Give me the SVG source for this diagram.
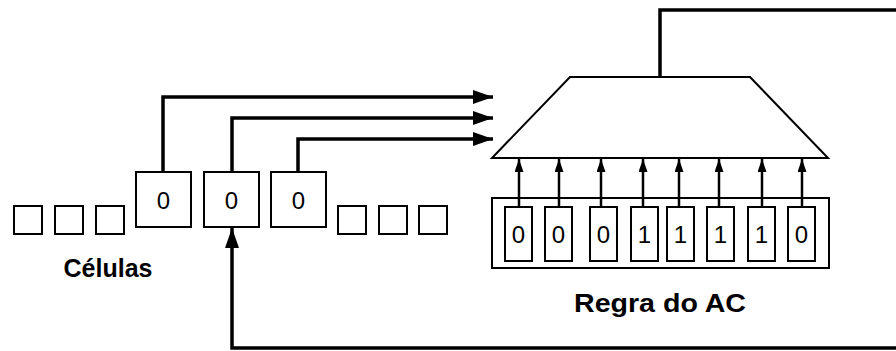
<svg xmlns="http://www.w3.org/2000/svg" width="896" height="351" viewBox="0 0 896 351">
<defs>
<style>
.box{fill:#fff;stroke:#000;stroke-width:2}
.wire{fill:none;stroke:#000;stroke-width:3.5}
.thin{fill:none;stroke:#000;stroke-width:2.5}
.dig{font-family:"Liberation Sans",Arial,sans-serif;font-size:24px;fill:#000;text-anchor:middle}
.lbl{font-family:"Liberation Sans",Arial,sans-serif;font-weight:bold;fill:#000;text-anchor:middle}
</style>
<marker id="ah" markerUnits="userSpaceOnUse" markerWidth="20" markerHeight="14" refX="20" refY="7" orient="auto">
<path d="M0,0 L20,7 L0,14 Z" fill="#000"/>
</marker>
<marker id="ahs" markerUnits="userSpaceOnUse" markerWidth="13" markerHeight="9" refX="13" refY="4.5" orient="auto">
<path d="M0,0 L13,4.5 L0,9 Z" fill="#000"/>
</marker>
</defs>
<rect width="896" height="351" fill="#fff"/>

<g id="cells-left">
<rect class="box" x="14" y="206" width="28" height="28"/>
<rect class="box" x="55" y="206" width="28" height="28"/>
<rect class="box" x="96" y="206" width="28" height="28"/>
</g>
<g id="cell-a"><rect class="box" x="136" y="172" width="55" height="55"/><text class="dig" x="163.5" y="208.5">0</text></g>
<g id="cell-b"><rect class="box" x="204" y="172" width="55" height="55"/><text class="dig" x="231.5" y="208.5">0</text></g>
<g id="cell-c"><rect class="box" x="271" y="172" width="55" height="55"/><text class="dig" x="298.5" y="208.5">0</text></g>
<g id="cells-right">
<rect class="box" x="338" y="206" width="28" height="28"/>
<rect class="box" x="379" y="206" width="28" height="28"/>
<rect class="box" x="419" y="206" width="28" height="28"/>
</g>
<g id="label-celulas"><text class="lbl" x="108" y="277" font-size="25">Células</text></g>

<g id="trapezoid"><polygon class="box" points="570,77 750,77 828,158 492,158"/></g>

<g id="rule">
<rect class="box" x="492" y="198" width="337" height="70"/>
<rect class="box" x="505" y="207" width="27" height="54"/><text class="dig" x="518.5" y="242.5">0</text>
<rect class="box" x="545" y="207" width="27" height="54"/><text class="dig" x="558.5" y="242.5">0</text>
<rect class="box" x="590" y="207" width="27" height="54"/><text class="dig" x="603.5" y="242.5">0</text>
<rect class="box" x="631" y="207" width="27" height="54"/><text class="dig" x="644.5" y="242.5">1</text>
<rect class="box" x="667" y="207" width="27" height="54"/><text class="dig" x="680.5" y="242.5">1</text>
<rect class="box" x="707" y="207" width="27" height="54"/><text class="dig" x="720.5" y="242.5">1</text>
<rect class="box" x="748" y="207" width="27" height="54"/><text class="dig" x="761.5" y="242.5">1</text>
<rect class="box" x="788" y="207" width="27" height="54"/><text class="dig" x="801.5" y="242.5">0</text>
</g>
<g id="label-regra"><text class="lbl" x="660" y="312" font-size="26" textLength="172" lengthAdjust="spacingAndGlyphs">Regra do AC</text></g>

<g id="connectors">
<polyline class="wire" points="163,172 163,97 493,97" marker-end="url(#ah)"/>
<polyline class="wire" points="232,172 232,118 493,118" marker-end="url(#ah)"/>
<polyline class="wire" points="298,172 298,139 493,139" marker-end="url(#ah)"/>
<polyline class="wire" points="660,77 660,10 900,10"/>
<polyline class="wire" points="900,348 232,348 232,228" marker-end="url(#ah)"/>
<line class="thin" x1="519" y1="207" x2="519" y2="159" marker-end="url(#ahs)"/>
<line class="thin" x1="559" y1="207" x2="559" y2="159" marker-end="url(#ahs)"/>
<line class="thin" x1="601" y1="207" x2="601" y2="159" marker-end="url(#ahs)"/>
<line class="thin" x1="643" y1="207" x2="643" y2="159" marker-end="url(#ahs)"/>
<line class="thin" x1="679" y1="207" x2="679" y2="159" marker-end="url(#ahs)"/>
<line class="thin" x1="719" y1="207" x2="719" y2="159" marker-end="url(#ahs)"/>
<line class="thin" x1="762" y1="207" x2="762" y2="159" marker-end="url(#ahs)"/>
<line class="thin" x1="802" y1="207" x2="802" y2="159" marker-end="url(#ahs)"/>
</g>
</svg>
